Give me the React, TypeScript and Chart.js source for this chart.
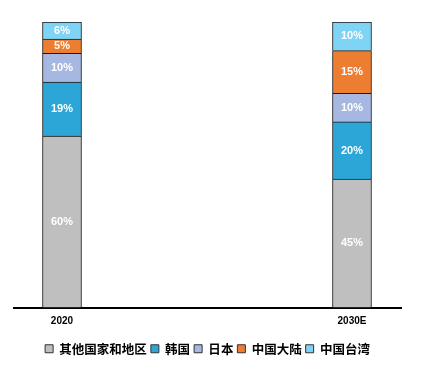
import React, { useEffect, useRef } from "react";
import { Chart, registerables } from "chart.js";

Chart.register(...registerables);

const categories = ["2020", "2030E"];
const seriesNames = ["其他国家和地区", "韩国", "日本", "中国大陆", "中国台湾"];
const otherRegions = [60, 45];
const korea = [19, 20];
const japan = [10, 10];
const mainland = [5, 15];
const taiwan = [6, 10];
const seriesColors = ["#bfbfbf", "#2ca6d6", "#a6b7e2", "#ed7d31", "#7fd4f5"];

const labelPlugin = {
  id: "barLabels",
  afterDatasetsDraw(chart: any) {
    const ctx = chart.ctx;
    ctx.save();
    ctx.fillStyle = "#ffffff";
    ctx.font = "bold 11px Arial, 'Liberation Sans', sans-serif";
    ctx.textAlign = "center";
    ctx.textBaseline = "middle";
    chart.data.datasets.forEach((ds: any, i: number) => {
      const meta = chart.getDatasetMeta(i);
      meta.data.forEach((el: any, j: number) => {
        const v = ds.data[j].y;
        const cy = (el.y + el.base) / 2;
        ctx.fillText(v + "%", el.x, cy);
      });
    });
    ctx.restore();
  },
};

export default function App() {
  const ref = useRef<HTMLCanvasElement | null>(null);
  useEffect(() => {
    document.body.style.margin = "0";
    const values = [otherRegions, korea, japan, mainland, taiwan];
    const chart = new Chart(ref.current as HTMLCanvasElement, {
      type: "bar",
      data: {
        datasets: seriesNames.map((name, i) => ({
          label: name,
          data: values[i].map((v, j) => ({ x: j, y: v })),
          backgroundColor: seriesColors[i],
          borderColor: "#1a1a1a",
          borderWidth: 1,
          barThickness: 39,
        })),
      },
      options: {
        animation: false,
        responsive: false,
        maintainAspectRatio: false,
        layout: { padding: { top: 22, left: 14, right: 26, bottom: 11 } },
        scales: {
          x: {
            type: "linear",
            stacked: true,
            offset: false,
            min: -0.1655,
            max: 1.169,
            grid: { display: false, drawTicks: false, offset: false },
            border: { display: true, color: "#000000", width: 2 },
            afterBuildTicks: (axis: any) => {
              axis.ticks = categories.map((_, i) => ({ value: i }));
            },
            afterFit: (axis: any) => {
              axis.height += 3;
            },
            ticks: {
              padding: 8,
              color: "#000000",
              font: { family: "Arial, 'Liberation Sans', sans-serif", size: 10, weight: "bold" },
              callback: (v: any) => categories[v] ?? "",
            },
          },
          y: {
            stacked: true,
            display: false,
            min: 0,
            max: 100,
          },
        },
        plugins: {
          tooltip: { enabled: false },
          legend: {
            position: "bottom",
            labels: {
              boxWidth: 8,
              boxHeight: 8,
              padding: 4,
              color: "#000000",
              font: { family: "'Noto Sans CJK SC', sans-serif", size: 12.5, weight: "bold" },
              generateLabels: (ch: any) =>
                ch.data.datasets.map((ds: any, i: number) => ({
                  text: ds.label,
                  fillStyle: ds.backgroundColor,
                  strokeStyle: "#333333",
                  lineWidth: 1,
                  hidden: false,
                  datasetIndex: i,
                })),
            },
          },
        },
      },
      plugins: [labelPlugin],
    } as any);
    return () => chart.destroy();
  }, []);
  return (
    <div style={{ width: 427, height: 376, background: "#ffffff" }}>
      <canvas ref={ref} width={427} height={376} style={{ display: "block" }} />
    </div>
  );
}
